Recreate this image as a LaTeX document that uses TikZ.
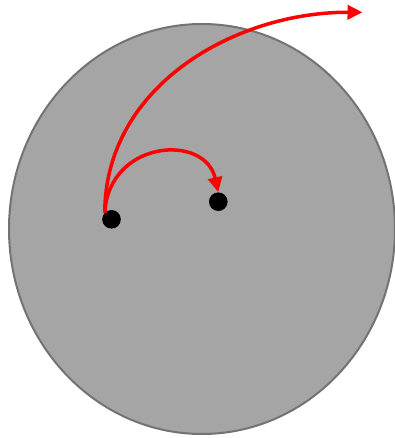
\documentclass[tikz,border=0pt]{standalone}
\usetikzlibrary{arrows.meta}
\definecolor{discfill}{RGB}{165,165,165}
\definecolor{discline}{RGB}{115,115,115}
\definecolor{jumpcol}{RGB}{255,0,0}

\begin{document}
\begin{tikzpicture}[
  x=1pt, y=-1pt,
  disc/.style={draw=discline, line width=2pt, fill=discfill},
  dot/.style={circle, fill=black, draw=none, inner sep=0pt, minimum size=18.6pt},
  jump/.style={draw=jumpcol, line width=3.5pt,
    -{Triangle[length=15pt,width=14pt]}},
]
\useasboundingbox (0,0) rectangle (395,438);

% ---- Disc ----
\filldraw[disc] (202,229) ellipse [x radius=193, y radius=205];

% ---- Points ----
\node[dot] (p) at (111.5,219.3) {};
\node[dot] (q) at (218.3,201.7) {};
\coordinate (out) at (362.5,12.3);

% ---- Jumps ----
\draw[jump] (p.north west) .. controls (105,86) and (235,12) .. (out);
\draw[jump] (p.north west) .. controls (109,140) and (205,133) .. (q.north);

\end{tikzpicture}
\end{document}
